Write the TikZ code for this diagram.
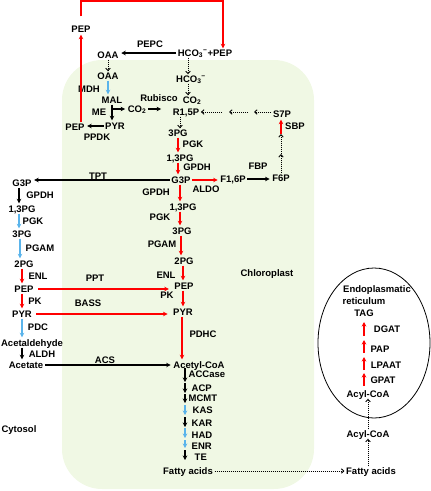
\documentclass[tikz,border=0pt]{standalone}
\usepackage{fontspec}
\setmainfont{Liberation Sans}
\usetikzlibrary{arrows.meta,calc}
\definecolor{chl}{RGB}{240,248,228}
\definecolor{rd}{RGB}{255,0,0}
\definecolor{bl}{RGB}{90,180,235}
\begin{document}
\begin{tikzpicture}[x=1pt,y=-1pt,
  every node/.style={font=\fontsize{9.5}{10}\selectfont\bfseries, inner xsep=1.5pt, inner ysep=0.5pt, text height=7pt, text depth=1pt},
  ar/.style={line width=1.1pt, -{Stealth[length=4.5pt,width=4.5pt]}, shorten >=1pt},
  blk/.style={ar, black},
  rarr/.style={ar, rd, line width=1.3pt},
  barr/.style={ar, bl},
  dotA/.style={line width=0.9pt, dash pattern=on 1pt off 1pt, -{Straight Barb[length=2.5pt,width=4.5pt]}}
]
\useasboundingbox (0,0) rectangle (431,491);
\fill[chl, rounded corners=40pt] (62,60) rectangle (314,489);
\draw[line width=0.8pt] (374,343) ellipse [x radius=56pt, y radius=75pt];

% ---- top C4 part
\node (PEPt) at (81,29) {PEP};
\node (HP) at (205,53) {HCO\textsubscript{3}\textsuperscript{\char"2212}+PEP};
\node (OAA1) at (108,55) {OAA};
\node at (150,44) {PEPC};
\node (OAA2) at (108,76) {OAA};
\node at (89,89) {MDH};
\node (MAL) at (112,100) {MAL};
\node at (99,112) {ME};
\node (PYRa) at (115,126) {PYR};
\node (PEPl) at (75,127) {PEP};
\node at (97,137) {PPDK};
\node (CO2a) at (137,109) {CO\textsubscript{2}};
\node at (159,98) {Rubisco};
\node (HC) at (191,79) {HCO\textsubscript{3}\textsuperscript{\char"2212}};
\node (CO2b) at (192,100) {CO\textsubscript{2}};
\node (R15P) at (186,112) {R1,5P};
\node (S7P) at (282,114) {S7P};
\node at (295,126) {SBP};
\node (F6P) at (281,178) {F6P};
\node at (258,166) {FBP};
\node (F16P) at (233,179) {F1,6P};
\node at (206,189) {ALDO};
\node (G3Pc) at (181,180) {G3P};
\node (PG3a) at (178,133) {3PG};
\node at (193,144) {PGK};
\node (PG13a) at (180,158) {1,3PG};
\node at (197,167) {GPDH};
\node (G3Py) at (22,183) {G3P};
\node at (98,176) {TPT};

% ---- chloroplast glycolysis
\node at (156,192) {GPDH};
\node (PG13b) at (183,207) {1,3PG};
\node at (160,217) {PGK};
\node (PG3b) at (182,231) {3PG};
\node at (162,244) {PGAM};
\node (PG2b) at (184,261) {2PG};
\node at (166,275) {ENL};
\node (PEPb) at (184,286) {PEP};
\node at (167,295) {PK};
\node (PYRb) at (183,312) {PYR};
\node at (203,334) {PDHC};
\node (ACoA) at (199,365) {Acetyl-CoA};

% ---- cytosol glycolysis
\node at (40,195) {GPDH};
\node (PG13y) at (22,209) {1,3PG};
\node at (33,221) {PGK};
\node (PG3y) at (22,234) {3PG};
\node at (40,248) {PGAM};
\node (PG2y) at (24,264) {2PG};
\node at (38,276) {ENL};
\node (PEPy) at (24,289) {PEP};
\node at (35,301) {PK};
\node (PYRy) at (22,314) {PYR};
\node at (95,278) {PPT};
\node at (88,303) {BASS};
\node at (38,327) {PDC};
\node (Ald) at (32,343) {Acetaldehyde};
\node at (42,354) {ALDH};
\node (Ace) at (26,365) {Acetate};
\node at (105,360) {ACS};

% ---- fatty acid synthesis labels
\node[anchor=west] at (187,374) {ACCase};
\node[anchor=west] at (190,388) {ACP};
\node[anchor=west] at (187,398) {MCMT};
\node[anchor=west] at (191,410) {KAS};
\node[anchor=west] at (190,423) {KAR};
\node[anchor=west] at (190,435) {HAD};
\node[anchor=west] at (190,446) {ENR};
\node[anchor=west] at (193,457) {TE};
\node (FA1) at (188,471) {Fatty acids};
\node (FA2) at (371,471) {Fatty acids};
\node (AC1) at (368,434) {Acyl-CoA};
\node (AC2) at (368,394) {Acyl-CoA};
\node at (383,380) {GPAT};
\node at (386,365) {LPAAT};
\node at (380,349) {PAP};
\node at (387,329) {DGAT};
\node (TAG) at (364,313) {TAG};
\node at (377,289) {Endoplasmatic};
\node at (364,301) {reticulum};
\node at (267,273) {Chloroplast};
\node at (19,429) {Cytosol};

% ---- coordinates
\coordinate (topR) at (223,1);
\coordinate (c1) at (254,112);
\coordinate (c1s) at (248,112);
\coordinate (c2) at (229,112);
\coordinate (c2s) at (222,112);
\coordinate (c3) at (281,154);
\coordinate (c4) at (281,134);
\foreach \n/\a/\b in {1/368/382, 2/383/393, 3/394/403, 4/405/415, 5/417/427, 6/428/438, 7/440/448, 8/450/460}{
  \coordinate (fs\n) at (185,\a);
  \coordinate (fe\n) at (185,\b);
}
\foreach \n/\a/\b in {1/386/373, 2/370/357, 3/353/340, 4/336/322}{
  \coordinate (es\n) at (364,\a);
  \coordinate (ee\n) at (364,\b);
}

% ---- connectors top
\draw[rd, line width=1.3pt, -{Stealth[length=4.5pt,width=4.5pt]}, shorten <=8pt] (PEPt.north) |- (topR) -- (topR |- HP.north);
\draw[rarr] (PEPt |- PEPl.north) -- (PEPt.south);
\draw[blk] (HP.west) -- (HP.west -| OAA1.east);
\draw[dotA] (OAA1.south) -- (OAA2.north);
\draw[barr] (OAA2.south) -- (OAA2.south |- MAL.north);
\draw[blk] (MAL.south) -- (MAL.south |- PYRa.north);
\draw[blk] (MAL.south |- CO2a.west) -- (CO2a.west);
\draw[blk, shorten >=10pt] (CO2a.east) -- (CO2a.east -| R15P.west);
\draw[blk] (PYRa.west) -- (PYRa.west -| PEPl.east);
\draw[dotA] ([xshift=-3pt]HC.north |- HP.south) -- ([xshift=-3pt]HC.north);
\draw[dotA] ([xshift=-3pt]HC.south) -- ([xshift=-3pt]HC.south |- CO2b.north);
\draw[dotA] ([xshift=-6pt]R15P.south) -- ([xshift=-6pt]R15P.south |- PG3a.north);
\draw[dotA] (S7P.west |- c1) -- (c1);
\draw[dotA] (c1s) -- (c2);
\draw[dotA] (c2s) -- (R15P.east);
\draw[dotA] (F6P.north) -- (c3);
\draw[dotA] (c3) -- (c4);
\draw[rarr] (c4) -- (c4 |- S7P.south);
\draw[rarr] (PG3a.south) -- (PG3a.south |- PG13a.north);
\draw[rarr] (PG13a.south -| PG3a) -- (PG3a |- G3Pc.north);
\draw[rarr] (G3Pc.east) -- (G3Pc.east -| F16P.west);
\draw[blk] (F16P.east) -- (F16P.east -| F6P.west);
\draw[blk] (G3Pc.west) -- (G3Pc.west -| G3Py.east);

% ---- chloroplast glycolysis
\draw[rarr] (G3Pc.south -| 180,0) -- (PG13b.north -| 180,0);
\draw[rarr] (PG13b.south -| 180,0) -- (PG3b.north -| 180,0);
\draw[rarr] (PG3b.south -| 181,0) -- (PG2b.north -| 181,0);
\draw[rarr] (PG2b.south -| 183,0) -- (PEPb.north -| 183,0);
\draw[rarr] (PEPb.south -| 183,0) -- (PYRb.north -| 183,0);
\draw[rarr] (PYRb.south -| 182,0) -- (ACoA.north -| 182,0);

% ---- cytosol glycolysis
\draw[blk] (G3Py.south -| 19,0) -- (PG13y.north -| 19,0);
\draw[barr] (PG13y.south -| 19,0) -- (PG3y.north -| 19,0);
\draw[barr] (PG3y.south -| 20,0) -- (PG2y.north -| 20,0);
\draw[rarr] (PG2y.south -| 22,0) -- (PEPy.north -| 22,0);
\draw[rarr] (PEPy.south -| 22,0) -- (PYRy.north -| 22,0);
\draw[barr] (PYRy.south) -- (PYRy.south |- Ald.north);
\draw[blk] (Ald.south -| 22,0) -- (Ace.north -| 22,0);
\draw[rarr, shorten <=3pt, shorten >=4pt] (PEPy.east) -- (PEPy.east -| PEPb.west);
\draw[rarr, shorten <=3pt, shorten >=4pt] (PYRy.east) -- (PYRy.east -| PYRb.west);
\draw[blk] (Ace.east) -- (ACoA.west);

% ---- fatty acid chain
\foreach \n/\s in {1/blk,2/blk,3/blk,4/barr,5/blk,6/barr,7/barr,8/blk}{
  \draw[\s, shorten >=0pt] (fs\n) -- (fe\n);
}
\draw[dotA] (FA1.east) -- (FA2.west);
\draw[dotA] (AC1.south |- FA2.north) -- (AC1.south);
\draw[dotA] (AC1.north) -- (AC2.south);
\foreach \n in {1,2,3,4}{
  \draw[rarr, shorten >=0pt] (es\n) -- (ee\n);
}
\end{tikzpicture}
\end{document}
